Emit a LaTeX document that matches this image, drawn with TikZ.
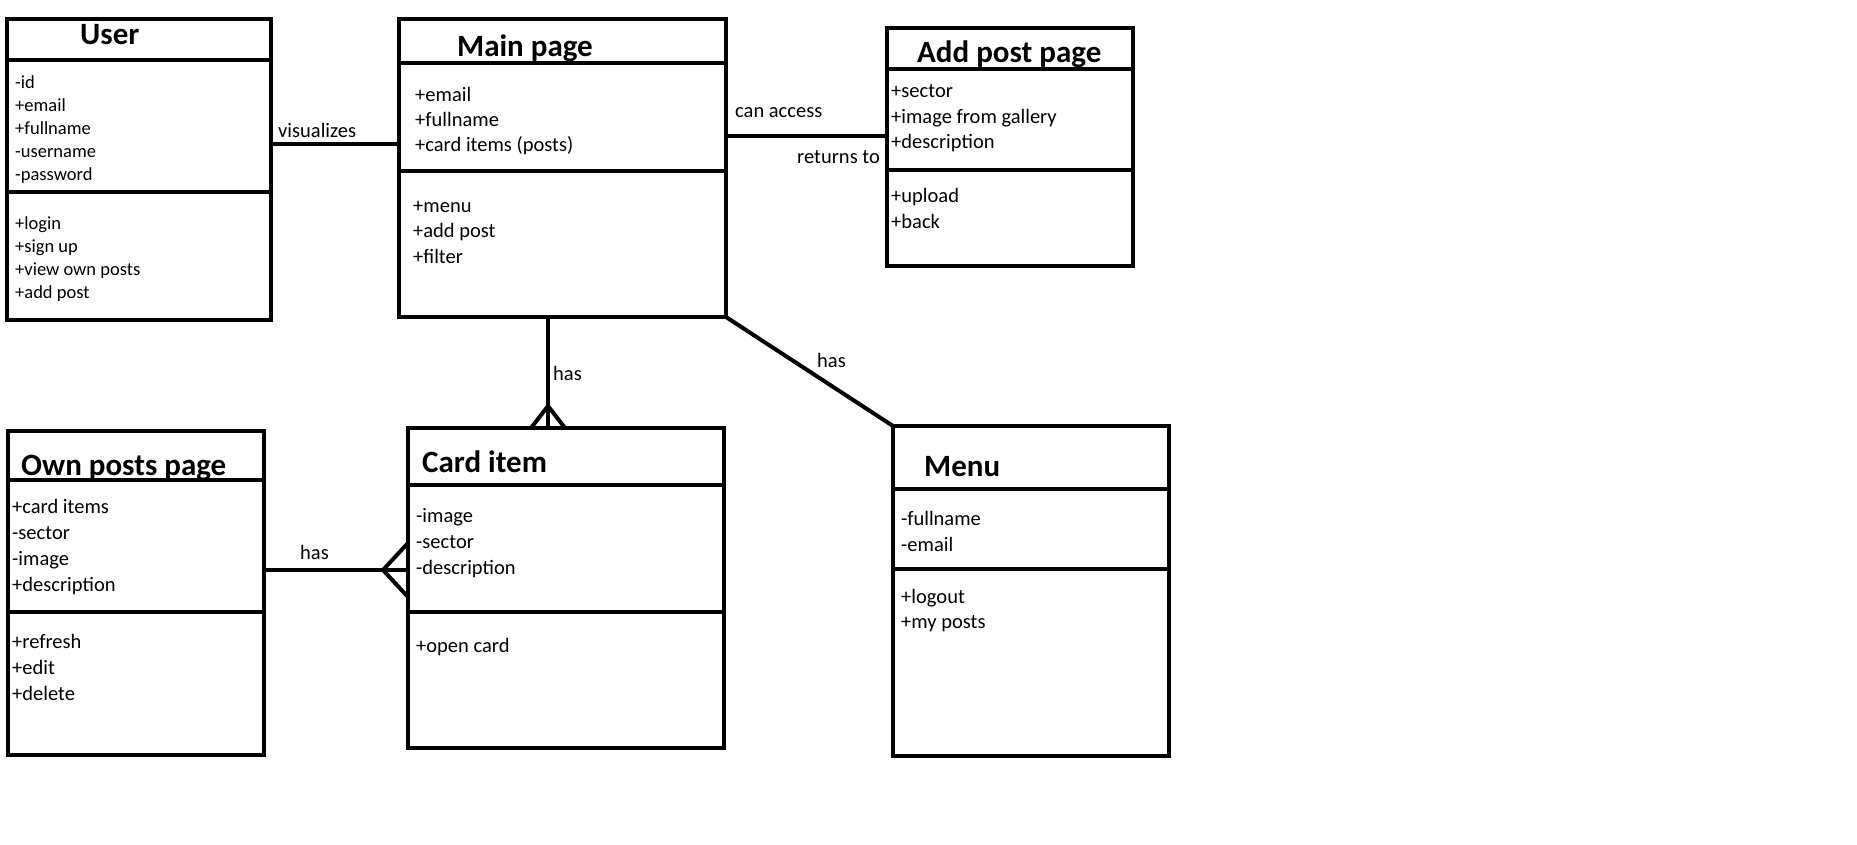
\documentclass[tikz,border=0pt]{standalone}
\usepackage{fontspec}
\setmainfont{Carlito}

\tikzset{
  classbox/.style={draw, rectangle, line width=4pt, anchor=north west, inner sep=0pt, outer sep=0pt},
  rule/.style={line width=4pt},
  link/.style={line width=4pt},
  classname/.style={font=\bfseries\fontsize{31}{36}\selectfont, anchor=base west, inner sep=0pt},
  members/.style={font=\fontsize{20.5}{25.5}\selectfont, align=left, anchor=base west, inner sep=0pt},
  linklabel/.style={font=\fontsize{20.5}{25}\selectfont, anchor=base west, inner sep=0pt}
}

\begin{document}
\begin{tikzpicture}[x=1pt, y=-1pt]
\useasboundingbox (0,0) rectangle (1857,845);

\node[classbox, minimum width=264pt, minimum height=301pt] (user) at (7,19) {};
\draw[rule] (user.west |- 0,60) -- (user.east |- 0,60);
\draw[rule] (user.west |- 0,192) -- (user.east |- 0,192);
\node[classname] (user-name) at (80,45) {User};
\node[members, font=\fontsize{18.5}{23}\selectfont] (user-attrs) at (15,181) {-id\\+email\\+fullname\\-username\\-password};
\node[members, font=\fontsize{18.5}{23}\selectfont] (user-ops) at (15,298) {+login\\+sign up\\+view own posts\\+add post};

\node[classbox, minimum width=327pt, minimum height=298pt] (main) at (399,19) {};
\draw[rule] (main.west |- 0,63) -- (main.east |- 0,63);
\draw[rule] (main.west |- 0,171) -- (main.east |- 0,171);
\node[classname] (main-name) at (457,57) {Main page};
\node[members, font=\fontsize{20.5}{25}\selectfont] (main-attrs) at (415,152) {+email\\+fullname\\+card items (posts)};
\node[members] (main-ops) at (413,263) {+menu\\+add post\\+filter};

\node[classbox, minimum width=246pt, minimum height=238pt] (addpost) at (887,28) {};
\draw[rule] (addpost.west |- 0,69) -- (addpost.east |- 0,69);
\draw[rule] (addpost.west |- 0,170) -- (addpost.east |- 0,170);
\node[classname] (addpost-name) at (917,63) {Add post page};
\node[members] (addpost-attrs) at (891,149) {+sector\\+image from gallery\\+description};
\node[members] (addpost-ops) at (891,228) {+upload\\+back};

\node[classbox, minimum width=256pt, minimum height=324pt] (own) at (8,431) {};
\draw[rule] (own.west |- 0,480) -- (own.east |- 0,480);
\draw[rule] (own.west |- 0,612) -- (own.east |- 0,612);
\node[classname] (own-name) at (21,475) {Own posts page};
\node[members, font=\fontsize{20.5}{26}\selectfont] (own-attrs) at (12,591) {+card items\\-sector\\-image\\+description};
\node[members, font=\fontsize{20.5}{26}\selectfont] (own-ops) at (12,700) {+refresh\\+edit\\+delete};

\node[classbox, minimum width=316pt, minimum height=320pt] (card) at (408,428) {};
\draw[rule] (card.west |- 0,485) -- (card.east |- 0,485);
\draw[rule] (card.west |- 0,612) -- (card.east |- 0,612);
\node[classname] (card-name) at (422,472) {Card item};
\node[members, font=\fontsize{20.5}{26}\selectfont] (card-attrs) at (416,574) {-image\\-sector\\-description};
\node[members] (card-ops) at (416,652) {+open card};

\node[classbox, minimum width=276pt, minimum height=330pt] (menu) at (893,426) {};
\draw[rule] (menu.west |- 0,489) -- (menu.east |- 0,489);
\draw[rule] (menu.west |- 0,569) -- (menu.east |- 0,569);
\node[classname] (menu-name) at (924,476) {Menu};
\node[members, font=\fontsize{20.5}{26}\selectfont] (menu-attrs) at (901,551) {-fullname\\-email};
\node[members, font=\fontsize{20.5}{25}\selectfont] (menu-ops) at (901,628) {+logout\\+my posts};

\coordinate (mainfoot) at (548,406);
\coordinate (ownfoot) at (383,570);

\draw[link] (user.east |- 0,144) -- (main.west |- 0,144);
\draw[link] (main.east |- 0,136) -- (addpost.west |- 0,136);
\draw[link] (main.south east) -- (menu.north west);
\draw[link] (main.south -| mainfoot) -- (card.north -| mainfoot);
\draw[link] (card.north -| 531,0) -- (mainfoot) -- (card.north -| 565,0);
\draw[link] (own.east |- ownfoot) -- (card.west |- ownfoot);
\draw[link] (card.west |- 0,543) -- (ownfoot) -- (card.west |- 0,597);

\node[linklabel] (lbl-vis) at (278,138) {visualizes};
\node[linklabel] (lbl-access) at (735,118) {can access};
\node[linklabel] (lbl-return) at (797,164) {returns to};
\node[linklabel] (lbl-has1) at (553,380) {has};
\node[linklabel] (lbl-has2) at (817,367) {has};
\node[linklabel] (lbl-has3) at (300,559) {has};
\end{tikzpicture}
\end{document}
